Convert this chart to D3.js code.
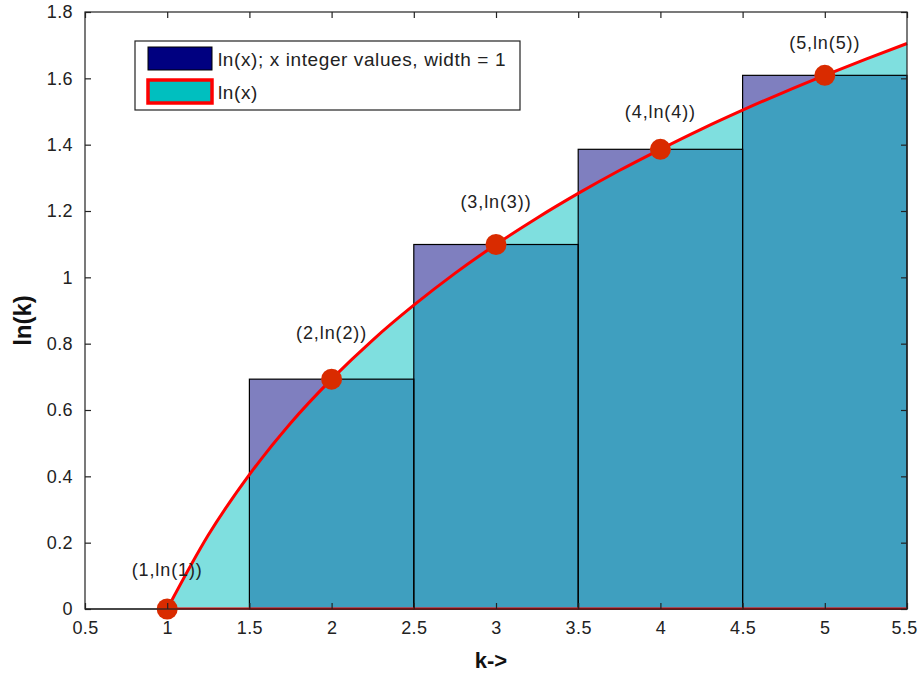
<!DOCTYPE html>
<html>
<head>
<meta charset="utf-8">
<script src="https://cdn.jsdelivr.net/npm/d3@7"></script>
<style>
  body { margin: 0; background: #fff; }
  svg { display: block; }
  text { font-family: "Liberation Sans", Arial, sans-serif; }
</style>
</head>
<body>
<svg id="chart" width="920" height="677"></svg>
<script>
// ---------- data ----------
const barK = [1, 2, 3, 4, 5];
const barValues = [0, 0.693, 1.099, 1.386, 1.609];
const curveX = [1, 1.25, 1.5, 1.75, 2, 2.25, 2.5, 2.75, 3, 3.25, 3.5, 3.75, 4, 4.25, 4.5, 4.75, 5, 5.25, 5.5];
const curveY = [0, 0.223, 0.405, 0.560, 0.693, 0.811, 0.916, 1.012, 1.099, 1.179, 1.253, 1.322, 1.386, 1.447, 1.504, 1.558, 1.609, 1.658, 1.705];
const pointLabels = ["(1,ln(1))", "(2,ln(2))", "(3,ln(3))", "(4,ln(4))", "(5,ln(5))"];
const labelY = [0.118, 0.832, 1.227, 1.498, 1.707];
const xTicks = [0.5, 1, 1.5, 2, 2.5, 3, 3.5, 4, 4.5, 5, 5.5];
const yTicks = [0, 0.2, 0.4, 0.6, 0.8, 1, 1.2, 1.4, 1.6, 1.8];
const legendLabels = ["ln(x); x integer values, width = 1", "ln(x)"];

// ---------- layout ----------
const svg = d3.select("#chart");
const m = { left: 85, top: 12, right: 13, bottom: 68 };
const W = 920 - m.left - m.right, H = 677 - m.top - m.bottom;
const g = svg.append("g").attr("transform", `translate(${m.left},${m.top})`);

const x = d3.scaleLinear().domain([0.5, 5.5]).range([0, W]);
const y = d3.scaleLinear().domain([0, 1.8]).range([H, 0]);

const barFill = "#000080", areaFill = "#00bfbf";

// bars
g.selectAll("rect.bar").data(barK).enter().append("rect")
  .attr("x", d => x(d - 0.5))
  .attr("y", (d, i) => y(barValues[i]))
  .attr("width", d => x(d + 0.5) - x(d - 0.5))
  .attr("height", (d, i) => y(0) - y(barValues[i]))
  .attr("fill", barFill).attr("fill-opacity", 0.5);

// area under curve
const pts = curveX.map((v, i) => [v, curveY[i]]);
const area = d3.area().x(d => x(d[0])).y0(y(0)).y1(d => y(d[1])).curve(d3.curveMonotoneX);
g.append("path").datum(pts).attr("d", area)
  .attr("fill", areaFill).attr("fill-opacity", 0.5);

// bar outlines on top
g.selectAll("rect.barOutline").data(barK.filter((d, i) => barValues[i] > 0)).enter().append("rect")
  .attr("x", d => x(d - 0.5))
  .attr("y", d => y(barValues[barK.indexOf(d)]))
  .attr("width", d => x(d + 0.5) - x(d - 0.5))
  .attr("height", d => y(0) - y(barValues[barK.indexOf(d)]))
  .attr("fill", "none").attr("stroke", "#000").attr("stroke-width", 1.2);

// axis baseline (black)
g.append("line").attr("x1", 0).attr("x2", W).attr("y1", y(0)).attr("y2", y(0))
  .attr("stroke", "#000").attr("stroke-width", 1);

// red outline: curve + bottom
const line = d3.line().x(d => x(d[0])).y(d => y(d[1])).curve(d3.curveMonotoneX);
g.append("path").datum(pts).attr("d", line)
  .attr("fill", "none").attr("stroke", "#ff0000").attr("stroke-width", 3);
g.append("line").attr("x1", x(curveX[0])).attr("x2", x(curveX[curveX.length - 1]))
  .attr("y1", y(0) - 0.5).attr("y2", y(0) - 0.5)
  .attr("stroke", "#ff0000").attr("stroke-width", 2);

// points
g.selectAll("circle.pt").data(barK).enter().append("circle")
  .attr("cx", d => x(d)).attr("cy", (d, i) => y(barValues[i]))
  .attr("r", 10.5).attr("fill", "#d92b00");

// point labels
g.selectAll("text.plabel").data(pointLabels).enter().append("text")
  .attr("x", (d, i) => x(barK[i]))
  .attr("y", (d, i) => y(labelY[i]))
  .attr("dy", "0.35em")
  .attr("text-anchor", "middle")
  .attr("font-size", 18).attr("letter-spacing", 0.9).attr("fill", "#222")
  .text(d => d);

// axes box
g.append("rect").attr("x", 0).attr("y", 0).attr("width", W).attr("height", H)
  .attr("fill", "none").attr("stroke", "#222").attr("stroke-width", 1.2);

const tl = 6;
const xb = g.append("g").attr("transform", `translate(0,${H})`)
  .call(d3.axisBottom(x).tickValues(xTicks).tickSizeInner(-tl).tickSizeOuter(0).tickPadding(12).tickFormat(d3.format("")));
const xt = g.append("g")
  .call(d3.axisTop(x).tickValues(xTicks).tickSizeInner(-tl).tickSizeOuter(0).tickFormat(""));
const yl = g.append("g")
  .call(d3.axisLeft(y).tickValues(yTicks).tickSizeInner(-tl).tickSizeOuter(0).tickPadding(12).tickFormat(d3.format("")));
const yr = g.append("g").attr("transform", `translate(${W},0)`)
  .call(d3.axisRight(y).tickValues(yTicks).tickSizeInner(-tl).tickSizeOuter(0).tickFormat(""));
[xb, xt, yl, yr].forEach(a => {
  a.select(".domain").remove();
  a.selectAll("line").attr("stroke", "#222").attr("stroke-width", 1.2);
  a.selectAll("text").attr("font-size", 18).attr("fill", "#222")
    .attr("font-family", "'Liberation Sans', Arial, sans-serif").attr("letter-spacing", 0.4);
});
// keep the last x label inside the page
xb.selectAll(".tick text").filter(d => d === 5.5).attr("dx", -3);

// axis titles
svg.append("text").attr("x", m.left + W / 2 - 5).attr("y", 668)
  .attr("text-anchor", "middle").attr("font-size", 22).attr("font-weight", "bold").attr("fill", "#111")
  .text("k->");
svg.append("text").attr("transform", `translate(31,${m.top + H / 2 + 10}) rotate(-90)`)
  .attr("text-anchor", "middle").attr("font-size", 24).attr("font-weight", "bold").attr("fill", "#111")
  .text("ln(k)");

// legend
const lg = svg.append("g").attr("transform", "translate(135,41)");
lg.append("rect").attr("x", 0).attr("y", 0).attr("width", 385).attr("height", 69)
  .attr("fill", "#fff").attr("stroke", "#222").attr("stroke-width", 1.2);
const sw = lg.selectAll("g.item").data(legendLabels).enter().append("g")
  .attr("transform", (d, i) => `translate(13,${6 + i * 33})`);
sw.append("rect").attr("x", 0).attr("y", 0).attr("width", 64).attr("height", 23)
  .attr("fill", (d, i) => i === 0 ? barFill : areaFill)
  .attr("stroke", (d, i) => i === 0 ? "#000" : "#ff0000")
  .attr("stroke-width", (d, i) => i === 0 ? 1 : 3.5);
sw.append("text").attr("x", 70).attr("y", 12).attr("dy", "0.35em")
  .attr("font-size", 19).attr("fill", "#222").attr("letter-spacing", 0.6)
  .text(d => d);
</script>
</body>
</html>
